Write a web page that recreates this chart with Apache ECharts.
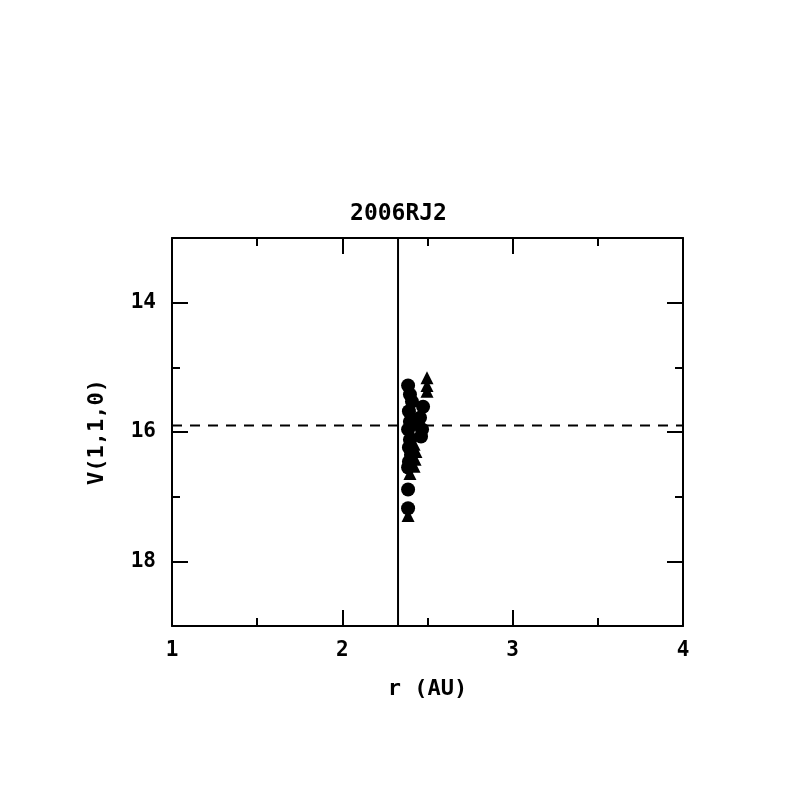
<!DOCTYPE html>
<html>
<head>
<meta charset="utf-8">
<script src="https://cdn.jsdelivr.net/npm/echarts@6/dist/echarts.min.js"></script>
<style>html,body{margin:0;padding:0;background:#fff}#c{width:797px;height:797px}</style>
</head>
<body>
<div id="c"></div>
<script>
const titleText = "2006RJ2";
const xLabel = "r (AU)";
const yLabel = "V(1,1,0)";
const xTicks = [1, 2, 3, 4];
const yMajorTicks = [14, 16, 18];
const yMinorTicks = [15, 17];

const circleR = [2.386, 2.397, 2.409, 2.474, 2.391, 2.456, 2.397, 2.386, 2.468, 2.462, 2.397, 2.391, 2.403, 2.391, 2.386, 2.386, 2.386];
const circleV = [15.28, 15.42, 15.53, 15.61, 15.68, 15.78, 15.84, 15.96, 15.96, 16.07, 16.12, 16.24, 16.35, 16.46, 16.55, 16.89, 17.18];

const triR = [2.497, 2.497, 2.497, 2.397, 2.427, 2.409, 2.421, 2.432, 2.427, 2.421, 2.397, 2.386];
const triV = [15.16, 15.28, 15.37, 15.73, 15.88, 16.04, 16.19, 16.30, 16.42, 16.53, 16.64, 17.29];

const vLineR = 2.327;
const hLineV = 15.90;
const xRange = [1, 4];
const yRange = [13, 19];

const FONT = "DejaVu Sans Mono";
const chart = echarts.init(document.getElementById('c'), null, {renderer: 'canvas'});

const lineStyle = {color: '#000', width: 2};
function xAx(pos, showLabel) {
  return {
    type: 'value', position: pos, min: xRange[0], max: xRange[1], interval: 1,
    axisLine: {show: true, onZero: false, lineStyle: lineStyle},
    axisTick: {show: true, inside: true, length: 16, lineStyle: lineStyle},
    minorTick: {show: true, splitNumber: 2, length: 8, lineStyle: lineStyle},
    splitLine: {show: false},
    axisLabel: {show: showLabel, color: '#000', fontFamily: FONT, fontSize: 21, fontWeight: 'bold', margin: 14,
      customValues: xTicks},
    name: showLabel ? xLabel : '', nameLocation: 'middle', nameGap: 52,
    nameTextStyle: {color: '#000', fontFamily: FONT, fontSize: 22, fontWeight: 'bold'}
  };
}
function yAx(pos, major, showLabel) {
  return {
    type: 'value', position: pos, inverse: true, min: yRange[0], max: yRange[1], interval: 1,
    axisLine: {show: major, onZero: false, lineStyle: lineStyle},
    axisTick: {show: true, inside: true, length: major ? 16 : 8, lineStyle: lineStyle,
      customValues: major ? yMajorTicks : yMinorTicks},
    splitLine: {show: false},
    axisLabel: {show: showLabel, color: '#000', fontFamily: FONT, fontSize: 21, fontWeight: 'bold', margin: 16,
      customValues: yMajorTicks},
    name: showLabel ? yLabel : '', nameLocation: 'middle', nameGap: 64,
    nameRotate: 90,
    nameTextStyle: {color: '#000', fontFamily: FONT, fontSize: 22, fontWeight: 'bold'}
  };
}

const circles = circleR.map((r, i) => [r, circleV[i]]);
const tris = triR.map((r, i) => [r, triV[i]]);

chart.setOption({
  animation: false,
  backgroundColor: '#fff',
  title: {text: titleText, left: 'center', top: 198,
    textStyle: {color: '#000', fontFamily: FONT, fontSize: 23, fontWeight: 'bold'}},
  grid: {left: 172, right: 114, top: 238, bottom: 171, containLabel: false},
  xAxis: [xAx('bottom', true), xAx('top', false)],
  yAxis: [yAx('left', true, true), yAx('left', false, false), yAx('right', true, false), yAx('right', false, false)],
  series: [
    {type: 'line', data: [[vLineR, yRange[0]], [vLineR, yRange[1]]], symbol: 'none',
      lineStyle: {color: '#000', width: 2}, z: 1},
    {type: 'line', data: [[xRange[0], hLineV], [xRange[1], hLineV]], symbol: 'none',
      lineStyle: {color: '#000', width: 2, type: [10, 8]}, z: 1},
    {type: 'scatter', data: circles, symbol: 'circle', symbolSize: 14,
      itemStyle: {color: '#000', opacity: 1}, z: 3},
    {type: 'scatter', data: tris, symbol: 'triangle', symbolSize: 13,
      itemStyle: {color: '#000', opacity: 1}, z: 3}
  ]
});
</script>
</body>
</html>
